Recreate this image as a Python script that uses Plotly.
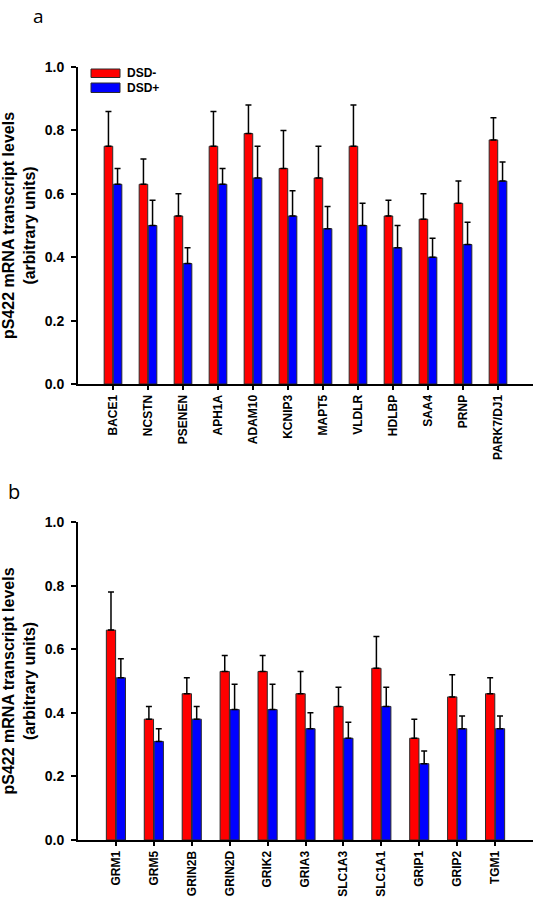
import plotly.graph_objects as go

# ---------------- data ----------------
genes_a = ["BACE1", "NCSTN", "PSENEN", "APH1A", "ADAM10", "KCNIP3", "MAPT5",
           "VLDLR", "HDLBP", "SAA4", "PRNP", "PARK7/DJ1"]
dsd_neg_a = [0.75, 0.63, 0.53, 0.75, 0.79, 0.68, 0.65, 0.75, 0.53, 0.52, 0.57, 0.77]
dsd_neg_a_err = [0.11, 0.08, 0.07, 0.11, 0.09, 0.12, 0.10, 0.13, 0.05, 0.08, 0.07, 0.07]
dsd_pos_a = [0.63, 0.50, 0.38, 0.63, 0.65, 0.53, 0.49, 0.50, 0.43, 0.40, 0.44, 0.64]
dsd_pos_a_err = [0.05, 0.08, 0.05, 0.05, 0.10, 0.08, 0.07, 0.07, 0.07, 0.06, 0.07, 0.06]

genes_b = ["GRM1", "GRM5", "GRIN2B", "GRIN2D", "GRIK2", "GRIA3", "SLC1A3",
           "SLC1A1", "GRIP1", "GRIP2", "TGM1"]
dsd_neg_b = [0.66, 0.38, 0.46, 0.53, 0.53, 0.46, 0.42, 0.54, 0.32, 0.45, 0.46]
dsd_neg_b_err = [0.12, 0.04, 0.05, 0.05, 0.05, 0.07, 0.06, 0.10, 0.06, 0.07, 0.05]
dsd_pos_b = [0.51, 0.31, 0.38, 0.41, 0.41, 0.35, 0.32, 0.42, 0.24, 0.35, 0.35]
dsd_pos_b_err = [0.06, 0.04, 0.04, 0.08, 0.08, 0.05, 0.05, 0.06, 0.04, 0.04, 0.04]

series_names = ["DSD-", "DSD+"]
series_colors = ["#FF0000", "#0000FF"]
y_ticks = [0.0, 0.2, 0.4, 0.6, 0.8, 1.0]

# ---------------- figure ----------------
W, H = 536, 900
FONT = "Liberation Sans, Arial, sans-serif"
fig = go.Figure()


def add_bars(cats, vals, errs, name, color, xa, ya):
    fig.add_trace(go.Bar(
        x=cats, y=vals, name=name, xaxis=xa, yaxis=ya,
        marker=dict(color=color, line=dict(color="#2b2b2b", width=1)),
        error_y=dict(type="data", symmetric=False, array=errs,
                     arrayminus=[0] * len(errs), color="black",
                     thickness=1.5, width=3),
        showlegend=False,
    ))


add_bars(genes_a, dsd_neg_a, dsd_neg_a_err, series_names[0], series_colors[0], "x", "y")
add_bars(genes_a, dsd_pos_a, dsd_pos_a_err, series_names[1], series_colors[1], "x", "y")
add_bars(genes_b, dsd_neg_b, dsd_neg_b_err, series_names[0], series_colors[0], "x2", "y2")
add_bars(genes_b, dsd_pos_b, dsd_pos_b_err, series_names[1], series_colors[1], "x2", "y2")


def px_x(p):
    return p / W


def px_y(p):
    return 1 - p / H


xdom = [px_x(78), px_x(533)]
ydom_a = [px_y(384), px_y(67)]
ydom_b = [px_y(840), px_y(522)]

xaxis_common = dict(
    type="category", showline=True, linecolor="black", linewidth=2,
    ticks="outside", ticklen=4, tickwidth=1.5, tickcolor="black",
    tickangle=-90, showgrid=False, zeroline=False, automargin=False,
    tickfont=dict(family=FONT, size=12, color="black", weight="bold"),
)
yaxis_common = dict(
    range=[0, 1.0], tickvals=y_ticks, tickformat=".1f",
    showline=True, linecolor="black", linewidth=2,
    ticks="outside", ticklen=5, tickwidth=1.5, tickcolor="black",
    ticklabelstandoff=4,
    showgrid=False, zeroline=False, automargin=False,
    tickfont=dict(family=FONT, size=14, color="black", weight="bold"),
    title=dict(text="pS422 mRNA transcript levels<br>(arbitrary units)",
               font=dict(family=FONT, size=16, color="black", weight="bold"),
               standoff=6),
)

fig.update_layout(
    width=W, height=H,
    margin=dict(l=0, r=0, t=0, b=0),
    paper_bgcolor="white", plot_bgcolor="white",
    barmode="group", bargap=0.48, bargroupgap=0.06,
    xaxis=dict(domain=xdom, anchor="y", range=[-1, len(genes_a)], **xaxis_common),
    yaxis=dict(domain=ydom_a, anchor="x", **yaxis_common),
    xaxis2=dict(domain=xdom, anchor="y2", range=[-1, len(genes_b)], **xaxis_common),
    yaxis2=dict(domain=ydom_b, anchor="x2", **yaxis_common),
)

# legend drawn as swatches + labels (panel a, top-left)
legend_rows = [(69, 77.5), (83, 92.5)]
for (top, bot), name, color in zip(legend_rows, series_names, series_colors):
    fig.add_shape(type="rect", xref="paper", yref="paper",
                  x0=px_x(91), x1=px_x(120), y0=px_y(bot), y1=px_y(top),
                  fillcolor=color, line=dict(color="#2b2b2b", width=1))
    fig.add_annotation(xref="paper", yref="paper", x=px_x(125), y=px_y((top + bot) / 2),
                       text=name, showarrow=False, xanchor="left", yanchor="middle",
                       font=dict(family=FONT, size=12, color="black", weight="bold"))

# panel letters
fig.add_annotation(xref="paper", yref="paper", x=px_x(38), y=px_y(1), text="a",
                   showarrow=False, xanchor="center", yanchor="top",
                   font=dict(family="Open Sans, sans-serif", size=19, color="black"))
fig.add_annotation(xref="paper", yref="paper", x=px_x(14), y=px_y(492), text="b",
                   showarrow=False, xanchor="center", yanchor="middle",
                   font=dict(family="Open Sans, sans-serif", size=20, color="black"))

fig.write_html("out.html", config={"displayModeBar": False},
               post_script="document.body.style.margin='0px';")
